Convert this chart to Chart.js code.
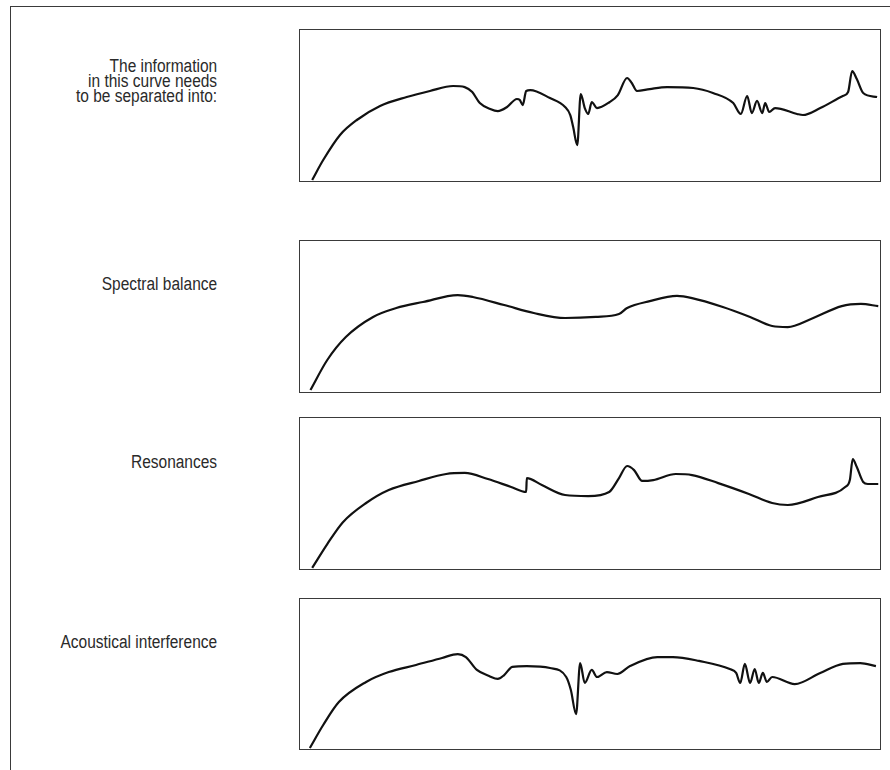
<!DOCTYPE html>
<html>
<head>
<meta charset="utf-8">
<script src="https://cdn.jsdelivr.net/npm/chart.js@4.4.1/dist/chart.umd.min.js"></script>
<style>
  html, body { margin: 0; padding: 0; background: #fff; }
  body { width: 890px; height: 770px; position: relative; overflow: hidden; }
  .frame { position: absolute; left: 10px; top: 6px; width: 890px; height: 780px;
           border-top: 1.5px solid #3a3a3a; border-left: 1.5px solid #3a3a3a; }
  .box { position: absolute; left: 299px; width: 580px; border: 1.5px solid #3a3a3a; }
  .box canvas { position: absolute; left: 0; top: 0; }
  .label { position: absolute; right: 673px; text-align: right; color: #2a2a2a;
           font-family: "Liberation Sans", Arial, sans-serif;
           font-size: 18px; line-height: 15px; white-space: nowrap;
           transform: scaleX(0.86); transform-origin: right center; }
</style>
</head>
<body>
<div class="frame"></div>

<div class="label" style="top:59px;">The information<br>in this curve needs<br>to be separated into:</div>
<div class="label" style="top:277px;">Spectral balance</div>
<div class="label" style="top:455px;">Resonances</div>
<div class="label" style="top:635px;">Acoustical interference</div>

<div class="box" style="top:29px;height:151px;"><canvas id="c1" width="580" height="151"></canvas></div>
<div class="box" style="top:240px;height:151px;"><canvas id="c2" width="580" height="151"></canvas></div>
<div class="box" style="top:417px;height:151px;"><canvas id="c3" width="580" height="151"></canvas></div>
<div class="box" style="top:598px;height:150px;"><canvas id="c4" width="580" height="150"></canvas></div>

<script>
// Panel 1: measured response (combined)
const combinedX = [2.1,4.0,6.9,9.8,13.8,18.4,22.4,26.4,28.4,29.7,31.0,32.8,34.1,35.7,37.4,37.9,38.4,39.0,39.7,43.1,45.7,46.6,47.1,47.8,48.4,49.1,49.7,50.3,51.2,53.4,54.8,56.4,57.2,58.1,60.3,63.3,67.8,71.2,74.7,76.0,77.1,77.9,78.8,79.7,80.2,80.9,81.9,85.7,86.7,89.7,93.6,94.5,95.2,96.0,97.1,99.5];
const combinedY = [0.7,13.9,30.5,40.4,49.7,55.6,59.6,62.9,62.2,58.9,51.6,47.7,46.3,49.0,54.3,53.6,50.3,59.6,60.2,54.9,49.0,43.7,35.7,23.8,57.6,48.3,44.4,52.3,48.3,52.3,56.9,68.2,64.9,59.6,60.9,62.2,61.6,58.3,51.6,44.4,56.3,45.0,53.0,45.0,51.6,45.7,48.3,44.4,43.7,48.3,56.3,58.9,72.8,67.5,58.3,55.6];

// Panel 2: spectral balance
const balanceX = [1.8,4.7,7.9,12.6,16.6,21.2,27.2,29.8,35.2,40.3,45.7,51.0,55.0,56.4,60.3,65.0,67.6,72.9,77.6,81.4,84.1,88.1,93.4,96.7,99.7];
const balanceY = [1.3,21.2,36.4,49.7,55.6,59.6,64.2,62.9,57.6,52.3,49.0,49.7,51.6,55.6,60.2,63.6,62.2,56.3,49.7,43.7,43.0,48.3,56.9,58.3,56.9];

// Panel 3: resonances
const resonX = [2.1,4.7,7.4,11.4,15.3,20.5,25.2,28.4,32.4,36.4,39.0,39.1,41.7,45.7,49.7,53.3,55.0,56.4,57.6,59.0,60.9,64.8,67.6,72.1,77.4,81.4,84.1,89.3,94.0,94.8,95.3,96.0,97.1,97.9,99.7];
const resonY = [0.7,16.5,31.0,43.7,52.3,58.3,62.9,63.6,59.6,54.3,51.0,60.2,55.6,49.0,48.3,51.0,60.2,68.2,65.5,58.3,58.9,62.9,62.2,56.9,49.7,43.7,42.4,47.7,54.3,58.9,72.8,67.5,57.6,56.3,56.3];

// Panel 4: acoustical interference
const interfX = [1.7,4.0,6.7,11.4,15.3,20.0,24.5,27.2,28.6,30.5,32.6,34.1,35.2,36.6,39.1,43.1,45.9,46.7,47.6,48.3,49.1,50.3,51.2,52.9,54.7,56.9,61.6,64.3,68.8,74.1,75.2,75.9,76.7,77.6,78.4,79.1,79.8,80.5,81.4,85.3,89.7,93.6,96.6,99.3];
const interfY = [0.7,16.0,31.3,44.7,51.3,56.0,60.7,63.3,61.3,52.7,48.7,46.7,49.3,54.7,55.3,54.0,48.0,39.3,23.3,57.3,44.0,52.7,48.0,51.3,50.0,55.3,61.3,61.3,58.7,53.3,50.7,44.0,56.7,44.0,53.3,44.0,50.7,44.7,48.0,43.3,50.7,56.7,57.3,55.3];

function pts(xs, ys) { return xs.map((x, i) => ({ x: x, y: ys[i] })); }

function makeChart(id, xs, ys) {
  new Chart(document.getElementById(id), {
    type: 'line',
    data: { datasets: [{ data: pts(xs, ys), borderColor: '#111', borderWidth: 2.2,
      pointRadius: 0, fill: false, cubicInterpolationMode: 'monotone', clip: false }] },
    options: {
      responsive: false, animation: false, devicePixelRatio: 1,
      layout: { padding: 0 },
      plugins: { legend: { display: false }, tooltip: { enabled: false } },
      scales: {
        x: { type: 'linear', min: 0, max: 100, display: false },
        y: { type: 'linear', min: 0, max: 100, display: false }
      }
    }
  });
}

makeChart('c1', combinedX, combinedY);
makeChart('c2', balanceX, balanceY);
makeChart('c3', resonX, resonY);
makeChart('c4', interfX, interfY);
</script>
</body>
</html>
